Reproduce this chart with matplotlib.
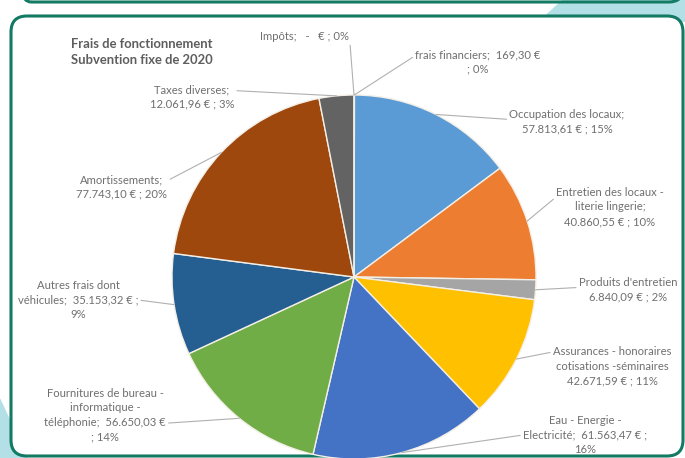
import matplotlib.pyplot as plt
from matplotlib.patches import FancyBboxPatch, Polygon
import numpy as np

plt.rcParams['font.family'] = ['Lato', 'DejaVu Sans']

W, H = 685, 458

title = "Frais de fonctionnement\nSubvention fixe de 2020"

labels = [
    "frais financiers;  169,30 €\n; 0%",
    "Occupation des locaux;\n57.813,61 € ; 15%",
    "Entretien des locaux -\nliterie lingerie;\n40.860,55 € ; 10%",
    "Produits d'entretien\n6.840,09 € ; 2%",
    "Assurances - honoraires\ncotisations -séminaires\n42.671,59 € ; 11%",
    "Eau - Energie -\nElectricité;  61.563,47 € ;\n16%",
    "Fournitures de bureau -\ninformatique -\ntéléphonie;  56.650,03 €\n; 14%",
    "Autres frais dont\nvéhicules;  35.153,32 € ;\n9%",
    "Amortissements;\n77.743,10 € ; 20%",
    "Taxes diverses;\n12.061,96 € ; 3%",
    "Impôts;   -   € ; 0%",
]
montants = [169.30, 57813.61, 40860.55, 6840.09, 42671.59, 61563.47,
            56650.03, 35153.32, 77743.10, 12061.96, 0.0]
couleurs = ['#264478', '#5b9bd5', '#ed7d31', '#a5a5a5', '#ffc000', '#4472c4',
            '#70ad47', '#255e91', '#9e480e', '#636363', '#997300']

# label placement (pixel centre from top-left) and where the leader meets the text box
pos_labels = [(478, 62), (567, 122), (610, 207), (628, 290), (612, 366), (585, 435),
              (105, 415), (78, 300), (122, 187), (192, 97), (305, 37)]
rel_leader = [(0, 0.75), (0, 0.6), (0, 0.75), (0, 0.6), (0, 0.85), (0, 0.5),
              (1, 0.35), (1, 0.5), (1, 0.75), (1, 0.75), (1, 0.5)]

centre = (354, H - 277)
rayon = 182
teal = '#137a63'
bleu_clair = '#b3e0e6'

fig = plt.figure(figsize=(W / 100, H / 100), dpi=100)
ax = fig.add_axes([0, 0, 1, 1])
ax.set_xlim(0, W)
ax.set_ylim(0, H)
ax.set_aspect('equal')
ax.axis('off')

# decorative background shapes
ax.add_patch(Polygon([(538, H - 22), (562, H), (W, H), (W, H - 22)],
                     closed=True, fc=bleu_clair, ec='none', zorder=0))
ax.add_patch(Polygon([(0, H - 398), (28, 0), (0, 0)],
                     closed=True, fc=bleu_clair, ec='none', zorder=0))

# upper box (only its bottom edge shows) and main frame
ax.add_patch(FancyBboxPatch((17, H - 2), 666, 60,
                            boxstyle="round,pad=0,rounding_size=14",
                            fc='none', ec=teal, lw=2.2, zorder=1))
ax.add_patch(FancyBboxPatch((11, 2), 672, 440,
                            boxstyle="round,pad=0,rounding_size=16",
                            fc='white', ec=teal, lw=2.2, zorder=1))

wedges, _ = ax.pie(montants, colors=couleurs, startangle=90, counterclock=False,
                   center=centre, radius=rayon, frame=True,
                   wedgeprops=dict(edgecolor='#f4efe6', linewidth=1.0))
for w in wedges:
    w.set_zorder(2)
ax.set_xlim(0, W)
ax.set_ylim(0, H)
ax.axis('off')

for w, txt, (px, py), rp in zip(wedges, labels, pos_labels, rel_leader):
    ang = np.deg2rad((w.theta1 + w.theta2) / 2)
    xy = (centre[0] + rayon * np.cos(ang), centre[1] + rayon * np.sin(ang))
    ax.annotate(txt, xy=xy, xytext=(px, H - py), ha='center', va='center',
                fontsize=8.1, color='#6f6f6f', linespacing=1.4, zorder=3,
                arrowprops=dict(arrowstyle='-', color='#b0b0b0', lw=0.8,
                                relpos=rp, shrinkA=0, shrinkB=0))

ax.text(142, H - 52, title, ha='center', va='center', fontsize=9.4,
        fontweight='bold', color='#5e5e5e', linespacing=1.35, zorder=3)

fig.savefig('out.png', dpi=100)
